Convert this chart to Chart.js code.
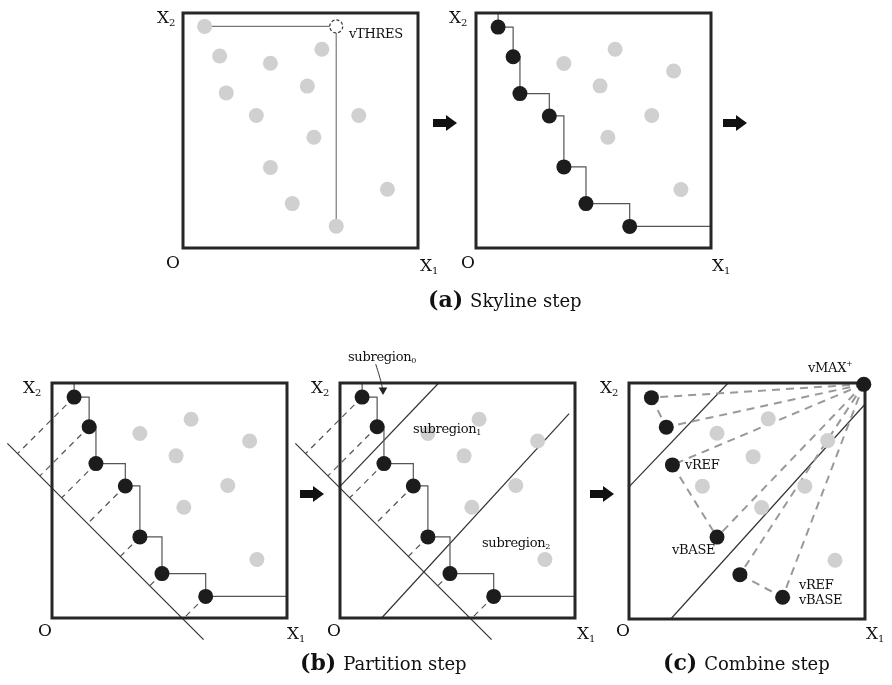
<!DOCTYPE html>
<html>
<head>
<meta charset="utf-8">
<script src="https://cdn.jsdelivr.net/npm/chart.js@4.4.1/dist/chart.umd.min.js"></script>
<style>
  body { margin: 0; background: #fff; }
  #page { position: relative; width: 892px; height: 685px; overflow: hidden; font-family: "DejaVu Serif", serif; color: #111; }
  #page canvas { position: absolute; }
  .lbl { position: absolute; line-height: 1; white-space: nowrap; transform: translateY(-50%); }
  .ax { font-size: 17px; }
  .ax sub { font-size: 10px; vertical-align: -3px; }
  .note { font-size: 13px; letter-spacing: -0.3px; }
  .note sub { font-size: 8px; vertical-align: -2px; }
  .cap { font-size: 18px; }
  .cap b { font-size: 22px; margin-right: 7px; }
  .arrow { position: absolute; width: 24px; height: 16px; }
  .arrow::before { content: ""; position: absolute; left: 0; top: 4px; width: 14px; height: 8px; background: #111; }
  .arrow::after { content: ""; position: absolute; left: 13px; top: 0; border-left: 11px solid #111; border-top: 8px solid transparent; border-bottom: 8px solid transparent; }
</style>
</head>
<body>
<div id="page"></div>
<script>
// valeurs en % du cadre (0 = O, 100 = bord)
// (a) panneau de gauche : tous les points, gris
const allX = [9.2, 15.6, 37.2, 59.1, 18.4, 52.9, 31.2, 74.8, 55.7, 37.2, 87.0, 46.5, 65.2];
const allY = [94.3, 81.7, 78.6, 84.6, 66.0, 68.9, 56.4, 56.4, 47.1, 34.3, 25.0, 18.9, 9.3];
const thresX = [65.2];
const thresY = [94.3];

// points de la skyline
const skyX = [9.4, 15.8, 18.7, 31.2, 37.4, 46.8, 65.4];
const skyY = [94.0, 81.4, 65.7, 56.2, 34.5, 18.9, 9.2];
// points dominés
const otherX = [37.4, 59.2, 84.1, 52.8, 74.8, 56.1, 87.2];
const otherY = [78.5, 84.6, 75.3, 69.0, 56.4, 47.1, 24.9];

// (b) droite de projection x1 + x2 = diagC, et droites de partition
const diagC = 55.3;
const diagX = [-19.0, 64.5];
const diagY = [74.3, -9.2];
const part1X = [0, 42.0];
const part1Y = [56.0, 100];
const part2X = [17.7, 97.5];
const part2Y = [0, 87.0];
const arrowX = [15.2, 16.9, 18.3];
const arrowY = [108.0, 102.5, 97.0];

// (c) combinaison
const combX = [9.5, 15.8, 18.4, 37.3, 47.0, 65.1];
const combY = [93.8, 81.3, 65.3, 34.7, 18.8, 9.2];
const restX = [37.3, 59.0, 84.2, 52.6, 31.1, 74.5, 56.2, 87.3];
const restY = [78.7, 84.8, 75.6, 68.8, 56.3, 56.3, 47.2, 24.9];
const maxX = [99.5];
const maxY = [99.5];
const cPart2X = [17.7, 100];
const cPart2Y = [0, 91.0];
// liens en pointillés : indices dans combX (-1 = vMAX+)
const links = [[-1, 0], [-1, 1], [-1, 2], [-1, 3], [-1, 4], [-1, 5], [0, 1], [2, 3], [4, 5]];

// placement des cadres sur la page
const panels = [
  { left: 183, top: 13, size: 235 },
  { left: 476, top: 13, size: 235 },
  { left: 52, top: 383, size: 235 },
  { left: 340, top: 383, size: 235 },
  { left: 629, top: 383, size: 236 },
];
const ML = 70, MR = 35, MT = 40, MB = 35;

const labels = [
  ["ax", 157, 18, "X<sub>2</sub>"], ["ax", 166, 262, "O"], ["ax", 420, 266, "X<sub>1</sub>"],
  ["note", 349, 33, "vTHRES"],
  ["ax", 449, 18, "X<sub>2</sub>"], ["ax", 461, 262, "O"], ["ax", 712, 266, "X<sub>1</sub>"],
  ["ax", 23, 388, "X<sub>2</sub>"], ["ax", 38, 630, "O"], ["ax", 287, 634, "X<sub>1</sub>"],
  ["ax", 311, 388, "X<sub>2</sub>"], ["ax", 327, 630, "O"], ["ax", 577, 634, "X<sub>1</sub>"],
  ["note", 348, 357, "subregion<sub>0</sub>"], ["note", 413, 429, "subregion<sub>1</sub>"], ["note", 482, 543, "subregion<sub>2</sub>"],
  ["ax", 600, 388, "X<sub>2</sub>"], ["ax", 616, 630, "O"], ["ax", 866, 634, "X<sub>1</sub>"],
  ["note", 808, 367, "vMAX<sup style='font-size:8px'>+</sup>"], ["note", 685, 464, "vREF"], ["note", 672, 549, "vBASE"],
  ["note", 799, 584, "vREF"], ["note", 799, 599, "vBASE"],
  ["cap", 428, 299, "<b>(a)</b>Skyline step"],
  ["cap", 300, 662, "<b>(b)</b>Partition step"],
  ["cap", 663, 662, "<b>(c)</b>Combine step"],
];
const arrows = [[433, 115], [723, 115], [300, 486], [590, 486]];

const page = document.getElementById("page");
const pts = (xs, ys) => xs.map((x, i) => ({ x: x, y: ys[i] }));

function dots(xs, ys, color) {
  return { data: pts(xs, ys), showLine: false, pointRadius: 7.5, pointBackgroundColor: color, pointBorderWidth: 0, order: 0 };
}
function line(xs, ys, opts) {
  return Object.assign({ data: pts(xs, ys), showLine: true, pointRadius: 0, borderColor: "#555", borderWidth: 1.2, fill: false, order: 3 }, opts);
}
function box() {
  return line([0, 100, 100, 0, 0], [0, 0, 100, 100, 0], { borderColor: "#262626", borderWidth: 3, borderJoinStyle: "miter", borderCapStyle: "square", order: 1 });
}
function staircase() {
  return line([skyX[0], ...skyX, 100], [100, ...skyY, skyY[skyY.length - 1]], { stepped: "before", order: 2 });
}
function projections() {
  return skyX.map((x, i) => {
    const d = (x + skyY[i] - diagC) / 2;
    return line([x, x - d], [skyY[i], skyY[i] - d], { borderColor: "#555", borderWidth: 1.2, borderDash: [6, 5], order: 4 });
  });
}

// cercle en pointillés (vTHRES)
const ringPlugin = {
  id: "ring",
  afterDatasetsDraw(chart) {
    const ctx = chart.ctx;
    chart.data.datasets.forEach((ds, i) => {
      if (!ds.ring) return;
      chart.getDatasetMeta(i).data.forEach((pt) => {
        ctx.save();
        ctx.fillStyle = "#fff";
        ctx.strokeStyle = "#333";
        ctx.lineWidth = 1.2;
        ctx.setLineDash([3, 2]);
        ctx.beginPath();
        ctx.arc(pt.x, pt.y, 6.5, 0, 2 * Math.PI);
        ctx.fill();
        ctx.stroke();
        ctx.restore();
      });
    });
  },
};

function makePanel(p, datasets) {
  const s = p.size / 100;
  const cv = document.createElement("canvas");
  cv.width = p.size + ML + MR;
  cv.height = p.size + MT + MB;
  cv.style.left = p.left - ML + "px";
  cv.style.top = p.top - MT + "px";
  page.appendChild(cv);
  new Chart(cv, {
    type: "scatter",
    data: { datasets: datasets },
    options: {
      responsive: false,
      animation: false,
      events: [],
      layout: { padding: 0, autoPadding: false },
      plugins: { legend: { display: false }, tooltip: { enabled: false } },
      scales: {
        x: { type: "linear", display: false, min: -ML / s, max: 100 + MR / s },
        y: { type: "linear", display: false, min: -MB / s, max: 100 + MT / s },
      },
    },
    plugins: [ringPlugin],
  });
}

const GRAY = "#d0d0d0", BLACK = "#1c1c1c";

// (a) gauche
makePanel(panels[0], [
  dots(allX, allY, GRAY),
  box(),
  line([allX[0], thresX[0], thresX[0]], [allY[0], thresY[0], allY[12]], { borderColor: "#777", order: 2 }),
  { data: pts(thresX, thresY), showLine: false, pointRadius: 0, ring: true },
]);

// (a) droite
makePanel(panels[1], [dots(skyX, skyY, BLACK), dots(otherX, otherY, GRAY), box(), staircase()]);

// (b) gauche
makePanel(panels[2], [
  dots(skyX, skyY, BLACK), dots(otherX, otherY, GRAY), box(), staircase(),
  line(diagX, diagY, { borderColor: "#333" }),
  ...projections(),
]);

// (b) droite
makePanel(panels[3], [
  dots(skyX, skyY, BLACK), dots(otherX, otherY, GRAY), box(), staircase(),
  line(diagX, diagY, { borderColor: "#333" }),
  line(part1X, part1Y, { borderColor: "#333" }),
  line(part2X, part2Y, { borderColor: "#333" }),
  ...projections(),
  line(arrowX, arrowY, { borderColor: "#333", borderWidth: 1, tension: 0.4, order: 2 }),
  { data: pts(arrowX.slice(-1), arrowY.slice(-1)), showLine: false, pointStyle: "triangle", pointRotation: 180, pointRadius: 5, pointBackgroundColor: "#222", pointBorderWidth: 0, order: 0 },
]);

// (c)
makePanel(panels[4], [
  dots(combX, combY, BLACK), dots(maxX, maxY, BLACK), dots(restX, restY, GRAY), box(),
  line(part1X, part1Y, { borderColor: "#333" }),
  line(cPart2X, cPart2Y, { borderColor: "#333" }),
  ...links.map(([a, b]) => {
    const xa = a < 0 ? maxX[0] : combX[a], ya = a < 0 ? maxY[0] : combY[a];
    return line([xa, combX[b]], [ya, combY[b]], { borderColor: "#999", borderWidth: 2, borderDash: [8, 6], order: 2 });
  }),
]);

labels.forEach(([cls, x, y, html]) => {
  const d = document.createElement("div");
  d.className = "lbl " + cls;
  d.style.left = x + "px";
  d.style.top = y + "px";
  d.innerHTML = html;
  page.appendChild(d);
});
arrows.forEach(([x, y]) => {
  const d = document.createElement("div");
  d.className = "arrow";
  d.style.left = x + "px";
  d.style.top = y + "px";
  page.appendChild(d);
});
</script>
</body>
</html>
